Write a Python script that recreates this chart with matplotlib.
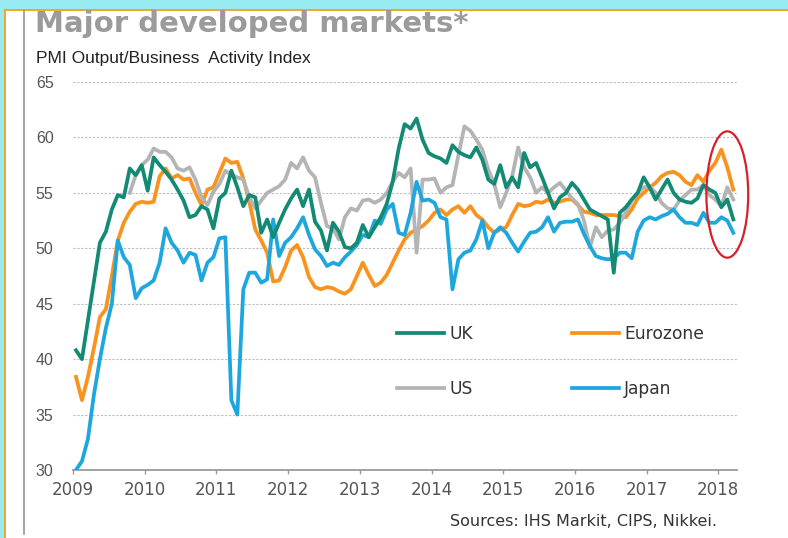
import matplotlib

matplotlib.use("Agg")
import matplotlib.pyplot as plt
import numpy as np
import pandas as pd
from matplotlib.lines import Line2D
from matplotlib.patches import Ellipse, Rectangle

# Monthly PMI output/business activity index, Jan 2009 - Mar 2018
months = pd.date_range("2009-01-01", "2018-03-01", freq="MS")

uk = [40.8, 40.0, 43.5, 47.0, 50.5, 51.5, 53.5, 54.8, 54.6, 57.2, 56.6, 57.5,
      55.2, 58.2, 57.5, 56.9, 56.2, 55.3, 54.3, 52.8, 53.0, 53.8, 53.5, 51.8,
      54.5, 55.0, 57.0, 55.5, 53.8, 54.8, 54.6, 51.4, 52.6, 51.0, 52.3, 53.5,
      54.5, 55.3, 53.8, 55.3, 52.4, 51.6, 49.8, 52.3, 51.5, 50.1, 50.0, 50.5,
      52.1, 51.0, 51.9, 52.8, 54.0, 56.0, 59.0, 61.2, 60.8, 61.7, 59.8, 58.6,
      58.3, 58.1, 57.7, 59.3, 58.7, 58.4, 58.2, 59.1, 58.0, 56.2, 55.8, 57.5,
      55.5, 56.4, 55.5, 58.6, 57.3, 57.7, 56.4, 55.0, 53.6, 54.6, 55.0, 55.9,
      55.3, 54.4, 53.5, 53.2, 52.9, 52.6, 47.8, 53.2, 53.7, 54.4, 55.0, 56.4,
      55.5, 54.4, 55.3, 56.2, 55.0, 54.4, 54.2, 54.1, 54.5, 55.7, 55.3, 55.0,
      53.7, 54.4, 52.6]

eurozone = [38.4, 36.3, 38.4, 41.0, 43.8, 44.5, 47.5, 50.7, 52.3, 53.3, 54.0, 54.2,
            54.1, 54.2, 56.5, 57.2, 56.3, 56.6, 56.2, 56.3, 55.0, 53.9, 55.3, 55.5,
            56.8, 58.1, 57.7, 57.8, 56.3, 54.2, 51.7, 50.7, 49.6, 47.0, 47.1, 48.3,
            49.8, 50.3, 49.2, 47.4, 46.5, 46.3, 46.5, 46.4, 46.1, 45.9, 46.3, 47.5,
            48.7, 47.6, 46.6, 46.9, 47.6, 48.7, 49.8, 50.8, 51.4, 51.7, 52.0, 52.5,
            53.2, 53.5, 53.0, 53.5, 53.8, 53.2, 53.8, 53.0, 52.6, 51.9, 51.4, 51.7,
            51.9, 53.0, 54.0, 53.8, 53.9, 54.2, 54.1, 54.4, 54.1, 54.2, 54.4, 54.4,
            53.9, 53.3, 53.2, 53.0, 53.0, 53.0, 53.0, 52.9, 52.8, 53.5, 54.5, 55.0,
            55.5, 55.9, 56.5, 56.8, 56.9, 56.6, 56.0, 55.7, 56.6, 56.0, 57.0, 57.7,
            58.9, 57.3, 55.3]

# US series starts in Oct 2009
us = [np.nan] * 9 + [
    55.0, 56.6, 57.5,
    58.0, 59.0, 58.7, 58.7, 58.2, 57.2, 57.0, 57.3, 56.2, 54.6, 53.9, 55.1,
    55.8, 57.0, 56.6, 56.4, 56.2, 54.6, 53.6, 54.3, 55.0, 55.3, 55.6, 56.2,
    57.7, 57.2, 58.2, 57.0, 56.4, 54.1, 52.0, 51.8, 50.8, 52.8, 53.6, 53.4,
    54.3, 54.4, 54.1, 54.4, 55.0, 56.0, 56.8, 56.4, 57.2, 49.6, 56.2, 56.2,
    56.3, 55.0, 55.5, 55.7, 58.4, 61.0, 60.6, 59.8, 58.9, 57.1, 55.8, 53.7,
    55.0, 56.5, 59.1, 57.3, 56.4, 55.0, 55.5, 55.0, 55.5, 55.9, 55.2, 54.5,
    54.0, 52.5, 50.1, 51.9, 51.0, 51.6, 51.7, 52.3, 53.2, 54.3, 55.0, 55.5,
    55.6, 55.0, 54.1, 53.6, 53.5, 54.3, 54.8, 55.3, 55.3, 55.7, 54.8, 54.4,
    53.8, 55.5, 54.4]

japan = [30.0, 30.8, 32.8, 36.8, 40.0, 42.8, 45.0, 50.7, 49.2, 48.5, 45.5, 46.4,
         46.7, 47.1, 48.7, 51.8, 50.5, 49.8, 48.7, 49.6, 49.4, 47.1, 48.7, 49.2,
         50.9, 51.0, 36.3, 35.0, 46.3, 47.8, 47.8, 46.9, 47.2, 52.6, 49.3, 50.5,
         51.0, 51.8, 52.8, 51.2, 49.9, 49.3, 48.4, 48.7, 48.5, 49.2, 49.7, 50.3,
         51.2, 51.0, 52.5, 52.2, 53.5, 54.0, 51.4, 51.2, 53.2, 56.0, 54.3, 54.4,
         54.1, 52.8, 52.6, 46.3, 49.0, 49.6, 49.8, 50.8, 52.5, 50.0, 51.4, 51.9,
         51.4, 50.5, 49.7, 50.6, 51.4, 51.5, 51.9, 52.8, 51.5, 52.3, 52.4, 52.4,
         52.6, 51.3, 50.2, 49.3, 49.1, 49.0, 49.1, 49.6, 49.6, 49.1, 51.5, 52.5,
         52.8, 52.6, 52.9, 53.1, 53.5, 52.8, 52.3, 52.3, 52.1, 53.2, 52.3, 52.3,
         52.8, 52.5, 51.4]

years = list(range(2009, 2019))
y_ticks = [30, 35, 40, 45, 50, 55, 60, 65]

# mid-month positions in decimal years
t = months.year + (months.month - 0.5) / 12

fig = plt.figure(figsize=(7.88, 5.38), dpi=100)

# page frame: cyan band, orange rule, grey margin line
fig.patches.append(Rectangle((0, 1 - 9.5 / 538), 1, 9.5 / 538, transform=fig.transFigure,
                             facecolor="#98ebf0", edgecolor="none"))
fig.patches.append(Rectangle((0, 0), 4.5 / 788, 1, transform=fig.transFigure,
                             facecolor="#98ebf0", edgecolor="none"))
fig.add_artist(Line2D([4.5 / 788, 1], [1 - 10 / 538] * 2, color="#f5a524", lw=1.4))
fig.add_artist(Line2D([5 / 788] * 2, [0, 1 - 10 / 538], color="#f5a524", lw=1.4))
fig.add_artist(Line2D([24 / 788] * 2, [4 / 538, 1 - 11 / 538], color="#8c8c8c", lw=1.1))

fig.text(35 / 788, 1 - 32 / 538, "Major developed markets*", fontsize=21,
         fontweight="bold", color="#9b9b9b", va="baseline", ha="left")
fig.text(36 / 788, 1 - 63 / 538, "PMI Output/Business  Activity Index", fontsize=12.5,
         family="Liberation Sans", color="#222222", va="baseline", ha="left")
fig.text(717 / 788, 1 - 522 / 538, "Sources: IHS Markit, CIPS, Nikkei.", fontsize=11.5,
         color="#333333", va="center", ha="right")

ax = fig.add_axes([73 / 788, 68 / 538, 664 / 788, 388 / 538])

ez_line, = ax.plot(t, eurozone, color="#f7931e", lw=2.7, zorder=2, label="Eurozone")
us_line, = ax.plot(t, us, color="#b4b4b4", lw=2.7, zorder=3, label="US")
jp_line, = ax.plot(t, japan, color="#1ea7df", lw=2.7, zorder=4, label="Japan")
uk_line, = ax.plot(t, uk, color="#128a74", lw=2.7, zorder=5, label="UK")

# highlight ring around the latest readings
recent = np.array([uk[-3:], eurozone[-3:], us[-3:], japan[-3:]])
ring = Ellipse((t[-2], (recent.max() + recent.min()) / 2 - 0.3), width=7 / 12,
               height=recent.max() - recent.min() + 3.9, fill=False,
               edgecolor="#d8202a", lw=1.6, zorder=6, clip_on=False)
ax.add_patch(ring)

ax.set_xlim(2009, 2018.26)
ax.set_ylim(30, 65)
ax.set_xticks(years)
ax.set_xticklabels([str(y) for y in years], fontsize=12, color="#555555")
ax.set_yticks(y_ticks)
ax.set_yticklabels([str(v) for v in y_ticks], fontsize=11.5, color="#555555",
                   family="Liberation Sans")
ax.tick_params(axis="y", length=0, pad=14)
ax.tick_params(axis="x", length=3, width=1, color="#999999", pad=5)
ax.grid(axis="y", color="#bdbdbd", lw=0.8, ls=(0, (2, 1.5)))
ax.set_axisbelow(True)
for side in ["top", "right", "left"]:
    ax.spines[side].set_visible(False)
ax.spines["bottom"].set_color("#9a9a9a")
ax.spines["bottom"].set_linewidth(1.3)

ax.legend(handles=[uk_line, us_line, ez_line, jp_line], ncol=2, frameon=False,
          loc="upper left", bbox_to_anchor=(397 / 788, 1 - 325 / 538),
          bbox_transform=fig.transFigure, borderpad=0, borderaxespad=0,
          fontsize=12.3, handlelength=2.75, handletextpad=0.3,
          columnspacing=5.8, labelspacing=2.15, labelcolor="#333333")

fig.savefig("out.png", dpi=100)
print("wrote out.png")
